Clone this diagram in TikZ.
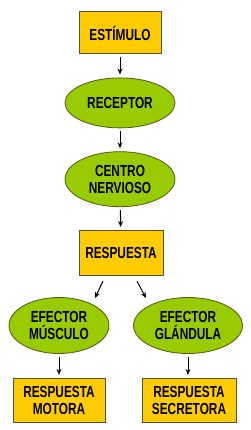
\documentclass[tikz,border=0pt]{standalone}
\usepackage{fontspec}
\setmainfont{Liberation Sans}[FakeStretch=0.74]
\usetikzlibrary{shapes.geometric, arrows.meta, positioning}
\definecolor{boxfill}{RGB}{255, 204, 0}
\definecolor{boxline}{RGB}{80, 80, 80}
\definecolor{ovalfill}{RGB}{153, 204, 0}
\definecolor{ovalline}{RGB}{80, 90, 20}

\begin{document}
\begin{tikzpicture}[
            node distance=23pt,
            box/.style={rectangle, draw=boxline, fill=boxfill, line width=1pt, inner sep=0pt, minimum height=44pt, align=center, font=\fontsize{16}{17}\selectfont\bfseries},
            oval/.style={ellipse, draw=ovalline, fill=ovalfill, line width=0.8pt, inner sep=0pt, align=center, font=\fontsize{16}{17}\selectfont\bfseries},
            arrow/.style={-{Stealth[length=6pt, width=5pt]}, line width=1pt, black, shorten <=3pt, shorten >=3pt}
        ]
            \useasboundingbox (0,0) rectangle (250pt,-430pt);

            \node[box, minimum width=82pt, minimum height=42pt] (estimulo) at (120pt,-33pt) {ESTÍMULO};
            \node[oval, minimum width=110pt, minimum height=50pt, below=of estimulo] (receptor) {RECEPTOR};
            \node[oval, minimum width=110pt, minimum height=55pt, below=of receptor] (centro) {CENTRO\\NERVIOSO};
            \node[box, minimum width=84pt, minimum height=45pt, below=of centro, xshift=1pt] (resp) {RESPUESTA};

            \node[oval, minimum width=100pt, minimum height=56pt, below=21pt of resp, xshift=-62pt] (musculo) {EFECTOR\\MÚSCULO};
            \node[oval, minimum width=109pt, minimum height=56pt, below=21pt of resp, xshift=67pt] (glandula) {EFECTOR\\GLÁNDULA};

            \node[box, minimum width=92pt, below=24pt of musculo] (motora) {RESPUESTA\\MOTORA};
            \node[box, minimum width=94pt, below=24pt of glandula, xshift=1pt] (secretora) {RESPUESTA\\SECRETORA};

            \draw[arrow] (estimulo) -- (receptor);
            \draw[arrow] (receptor) -- (centro);
            \draw[arrow] (centro) -- (resp);
            \draw[arrow, shorten <=0pt, shorten >=0pt] ([xshift=-18pt, yshift=-5pt]resp.south) -- ([xshift=36pt, yshift=-1pt]musculo.north);
            \draw[arrow, shorten <=0pt, shorten >=0pt] ([xshift=16pt, yshift=-5pt]resp.south) -- ([xshift=-42pt, yshift=-1pt]glandula.north);
            \draw[arrow] (musculo) -- (motora);
            \draw[arrow] (glandula) -- (glandula |- secretora.north);
        \end{tikzpicture}
\end{document}
